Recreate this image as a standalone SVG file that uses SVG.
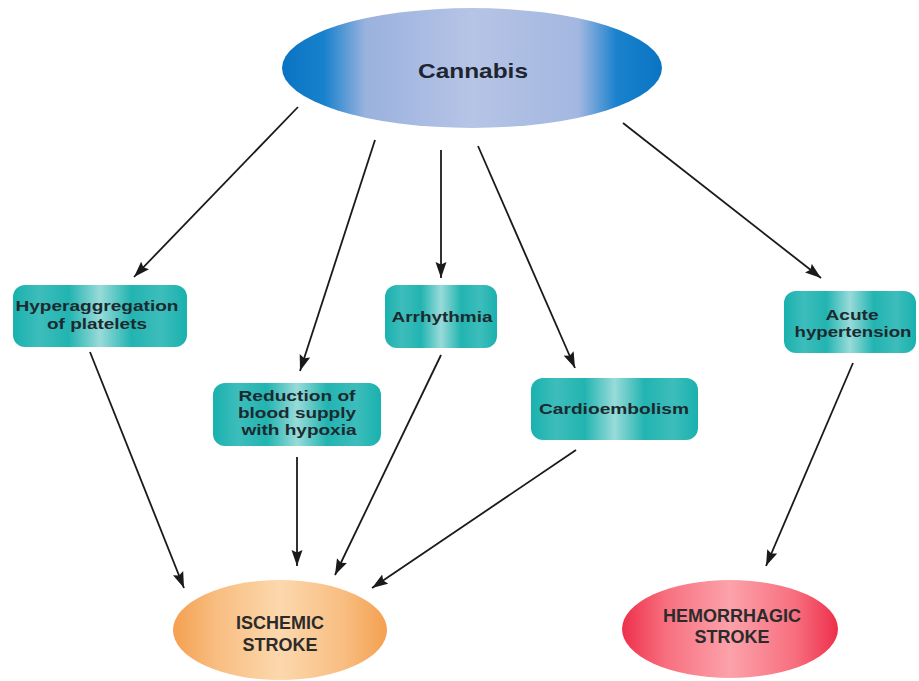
<svg xmlns="http://www.w3.org/2000/svg" width="919" height="681" viewBox="0 0 919 681">
<style>
.box{stroke:none}
.bt{font-family:"Liberation Sans",Arial,sans-serif;font-weight:bold;font-size:15.5px;fill:#1c2a30;text-anchor:middle}
.et{font-family:"Liberation Sans",Arial,sans-serif;font-weight:bold;font-size:18px;fill:#2b2b2b;text-anchor:middle}
.ct{font-family:"Liberation Sans",Arial,sans-serif;font-weight:bold;font-size:21px;fill:#1e2530;text-anchor:middle}
.conn line{stroke:#1a1a1a;stroke-width:1.8;marker-end:url(#ah)}
</style>
<defs>
<marker id="ah" markerUnits="userSpaceOnUse" markerWidth="16" markerHeight="12" viewBox="0 0 16 12" refX="16" refY="6" orient="auto">
<path d="M0,0.5 L16,6 L0,11.5 L2.5,6 z" fill="#1a1a1a"/>
</marker>
<linearGradient id="gBlue" x1="0" y1="0" x2="1" y2="0">
<stop offset="0" stop-color="#0a74c4"/>
<stop offset="0.11" stop-color="#1781cc"/>
<stop offset="0.22" stop-color="#9ab2de"/>
<stop offset="0.5" stop-color="#b6c4e6"/>
<stop offset="0.78" stop-color="#a3b7e0"/>
<stop offset="0.88" stop-color="#1a82cd"/>
<stop offset="1" stop-color="#0a74c4"/>
</linearGradient>
<linearGradient id="gTeal" x1="0" y1="0" x2="1" y2="0">
<stop offset="0" stop-color="#19b1ae"/>
<stop offset="0.15" stop-color="#3dbdbb"/>
<stop offset="0.32" stop-color="#22b4b1"/>
<stop offset="0.5" stop-color="#98dbd9"/>
<stop offset="0.68" stop-color="#22b4b1"/>
<stop offset="0.85" stop-color="#3dbdbb"/>
<stop offset="1" stop-color="#19b1ae"/>
</linearGradient>
<linearGradient id="gOrange" x1="0" y1="0" x2="1" y2="0">
<stop offset="0" stop-color="#f4a050"/>
<stop offset="0.2" stop-color="#f8bd80"/>
<stop offset="0.5" stop-color="#fcd8ad"/>
<stop offset="0.8" stop-color="#f8bd80"/>
<stop offset="1" stop-color="#f4a050"/>
</linearGradient>
<linearGradient id="gRed" x1="0" y1="0" x2="1" y2="0">
<stop offset="0" stop-color="#ee2f4b"/>
<stop offset="0.2" stop-color="#f76f7f"/>
<stop offset="0.5" stop-color="#fca2aa"/>
<stop offset="0.8" stop-color="#f76f7f"/>
<stop offset="1" stop-color="#ee2f4b"/>
</linearGradient>
</defs>
<rect width="919" height="681" fill="#ffffff"/>

<g id="cannabis">
<ellipse cx="472" cy="68" rx="190" ry="60" fill="url(#gBlue)"/>
<text class="ct" x="473" y="78" textLength="110" lengthAdjust="spacingAndGlyphs">Cannabis</text>
</g>

<g id="hyperaggregation">
<rect class="box" x="13" y="285" width="174" height="62" rx="12" fill="url(#gTeal)"/>
<text class="bt" x="97" y="311" textLength="163" lengthAdjust="spacingAndGlyphs">Hyperaggregation</text>
<text class="bt" x="97" y="329" textLength="100" lengthAdjust="spacingAndGlyphs">of platelets</text>
</g>

<g id="reduction">
<rect class="box" x="213" y="383" width="168" height="63" rx="12" fill="url(#gTeal)"/>
<text class="bt" x="297" y="401" textLength="117" lengthAdjust="spacingAndGlyphs">Reduction of</text>
<text class="bt" x="297" y="418" textLength="118" lengthAdjust="spacingAndGlyphs">blood supply</text>
<text class="bt" x="299" y="435" textLength="115" lengthAdjust="spacingAndGlyphs">with hypoxia</text>
</g>

<g id="arrhythmia">
<rect class="box" x="385" y="285" width="112" height="63" rx="12" fill="url(#gTeal)"/>
<text class="bt" x="442" y="322" textLength="101" lengthAdjust="spacingAndGlyphs">Arrhythmia</text>
</g>

<g id="cardioembolism">
<rect class="box" x="531" y="378" width="167" height="62" rx="12" fill="url(#gTeal)"/>
<text class="bt" x="614" y="414" textLength="150" lengthAdjust="spacingAndGlyphs">Cardioembolism</text>
</g>

<g id="hypertension">
<rect class="box" x="784" y="291" width="132" height="62" rx="12" fill="url(#gTeal)"/>
<text class="bt" x="852" y="320" textLength="53" lengthAdjust="spacingAndGlyphs">Acute</text>
<text class="bt" x="853" y="337" textLength="117" lengthAdjust="spacingAndGlyphs">hypertension</text>
</g>

<g id="ischemic">
<ellipse cx="280" cy="630" rx="107" ry="50" fill="url(#gOrange)"/>
<text class="et" x="280" y="629">ISCHEMIC</text>
<text class="et" x="280" y="651">STROKE</text>
</g>

<g id="hemorrhagic">
<ellipse cx="730" cy="629" rx="108" ry="49" fill="url(#gRed)"/>
<text class="et" x="732" y="622">HEMORRHAGIC</text>
<text class="et" x="732" y="643">STROKE</text>
</g>

<g id="connectors" class="conn">
<line x1="298" y1="107" x2="134" y2="277"/>
<line x1="375" y1="140" x2="300" y2="371"/>
<line x1="441" y1="150" x2="441" y2="278"/>
<line x1="478" y1="146" x2="575" y2="368"/>
<line x1="623" y1="123" x2="821" y2="278"/>
<line x1="90" y1="352" x2="184" y2="588"/>
<line x1="297" y1="457" x2="297" y2="566"/>
<line x1="441" y1="355" x2="335" y2="575"/>
<line x1="576" y1="450" x2="372" y2="588"/>
<line x1="853" y1="363" x2="766" y2="566"/>
</g>
</svg>
